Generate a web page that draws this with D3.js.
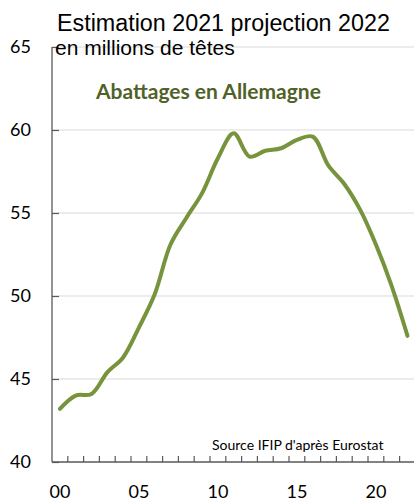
<!DOCTYPE html>
<html>
<head>
<meta charset="utf-8">
<script src="https://cdn.jsdelivr.net/npm/d3@7"></script>
<style>
  html, body { margin: 0; padding: 0; background: #ffffff; }
  svg { display: block; }
</style>
</head>
<body>
<script>
// ---- Data ----
const years = ["00","01","02","03","04","05","06","07","08","09","10","11","12","13","14","15","16","17","18","19","20","21","22"];
const slaughter = [43.2, 44.0, 44.1, 45.4, 46.3, 48.1, 50.1, 53.1, 54.7, 56.2, 58.3, 59.8, 58.4, 58.75, 58.9, 59.4, 59.6, 57.85, 56.75, 55.2, 53.1, 50.6, 47.6];
const yTicks = [40, 45, 50, 55, 60, 65];
const xLabelYears = ["00","05","10","15","20"];
const titleText = "Estimation 2021 projection 2022";
const unitText = "en millions de têtes";
const seriesLabel = "Abattages en Allemagne";
const sourceText = "Source IFIP d'après Eurostat";

// ---- Layout ----
const W = 414, H = 502;
const mLeft = 52, mRight = 415.4, mTop = 47, mBottom = 462;

const svg = d3.select("body").append("svg").attr("width", W).attr("height", H);

const x = d3.scaleBand().domain(years).range([mLeft, mRight]).padding(0);
const y = d3.scaleLinear().domain([40, 65]).range([mBottom, mTop]);

const calibri = "Lato, 'Open Sans', sans-serif";
const arial = "'Liberation Sans', Arial, sans-serif";

// gridlines
svg.append("g").selectAll("line").data(yTicks.filter(d => d > 40)).join("line")
  .attr("x1", mLeft).attr("x2", W)
  .attr("y1", d => y(d)).attr("y2", d => y(d))
  .attr("stroke", "#d9d9d9").attr("stroke-width", 1.2);

// y axis
const yAxis = svg.append("g").attr("transform", `translate(${mLeft},0)`)
  .call(d3.axisRight(y).tickValues(yTicks).tickSize(7).tickFormat(""));
yAxis.select(".domain").remove();
yAxis.selectAll(".tick line").attr("stroke", "#595959").attr("stroke-width", 1.2);
svg.append("line").attr("x1", mLeft).attr("x2", mLeft).attr("y1", mTop).attr("y2", mBottom)
  .attr("stroke", "#595959").attr("stroke-width", 1.3);

// y labels
svg.append("g").selectAll("text").data(yTicks).join("text")
  .attr("x", 31).attr("y", d => y(d)).attr("dy", "0.36em")
  .attr("text-anchor", "end")
  .attr("font-family", calibri).attr("font-size", 18).attr("fill", "#000")
  .text(d => d);

// x axis line + ticks at band boundaries
svg.append("line").attr("x1", mLeft).attr("x2", W).attr("y1", mBottom).attr("y2", mBottom)
  .attr("stroke", "#595959").attr("stroke-width", 1.3);
svg.append("g").selectAll("line").data(years).join("line")
  .attr("x1", d => x(d) + x.bandwidth()).attr("x2", d => x(d) + x.bandwidth())
  .attr("y1", mBottom).attr("y2", mBottom - 6)
  .attr("stroke", "#595959").attr("stroke-width", 1.2);

// x labels
svg.append("g").selectAll("text").data(xLabelYears).join("text")
  .attr("x", d => x(d) + x.bandwidth() / 2).attr("y", 498)
  .attr("text-anchor", "middle")
  .attr("font-family", calibri).attr("font-size", 18).attr("fill", "#000")
  .text(d => d);

// line
const line = d3.line()
  .x((d, i) => x(years[i]) + x.bandwidth() / 2)
  .y(d => y(d))
  .curve(d3.curveCatmullRom.alpha(0.5));
svg.append("path").datum(slaughter)
  .attr("d", line)
  .attr("fill", "none")
  .attr("stroke", "#77933C")
  .attr("stroke-width", 4)
  .attr("stroke-linecap", "round")
  .attr("stroke-linejoin", "round");

// titles
svg.append("text").attr("x", 57).attr("y", 31)
  .attr("font-family", arial).attr("font-size", 23.3).attr("fill", "#000")
  .text(titleText);
svg.append("text").attr("x", 55).attr("y", 54.5)
  .attr("font-family", arial).attr("font-size", 21).attr("fill", "#000")
  .text(unitText);

svg.append("text").attr("x", 96).attr("y", 99)
  .attr("font-family", calibri).attr("font-weight", "bold").attr("font-size", 21).attr("fill", "#4F6228")
  .text(seriesLabel);

svg.append("text").attr("x", 212).attr("y", 450)
  .attr("font-family", calibri).attr("font-size", 14).attr("fill", "#000")
  .text(sourceText);
</script>
</body>
</html>
